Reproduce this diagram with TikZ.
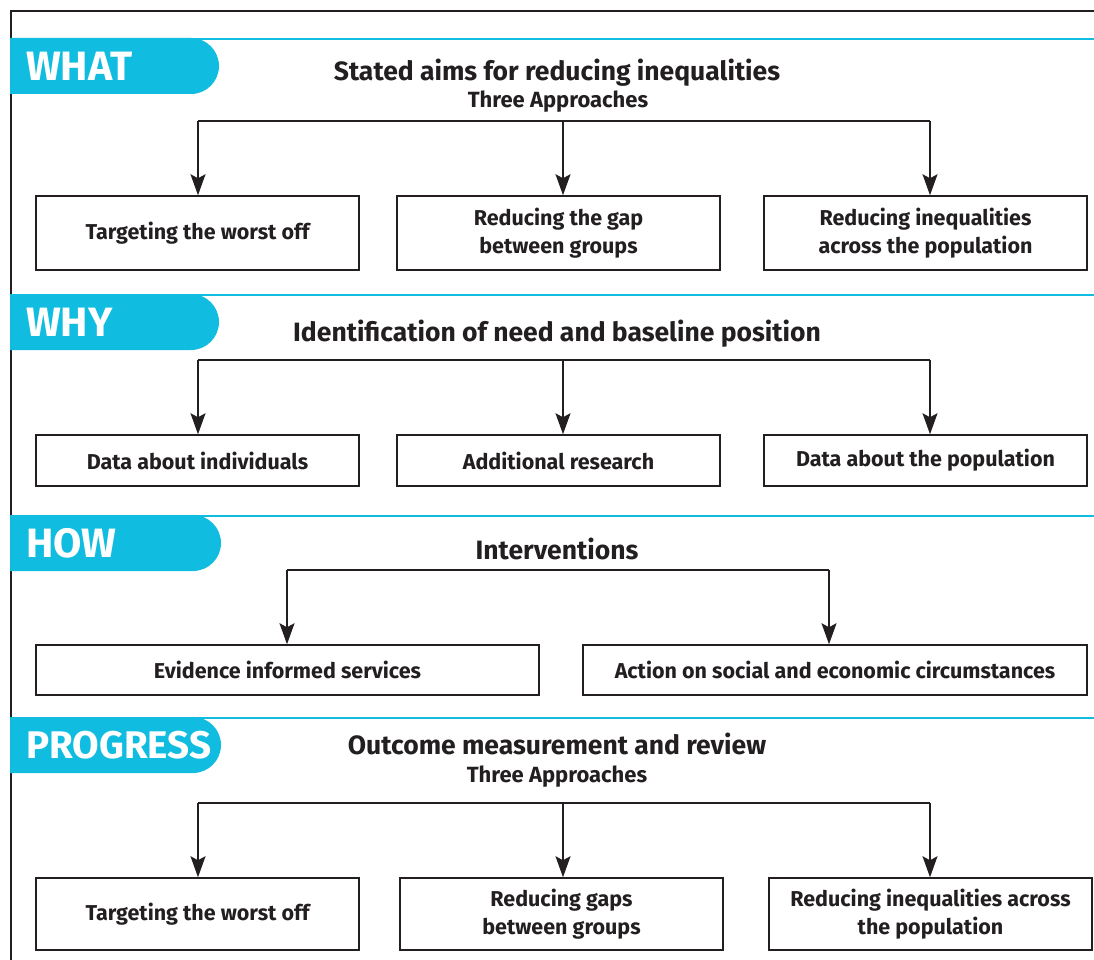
\documentclass[tikz,border=0pt]{standalone}
\usepackage{fontspec}
\setmainfont{Fira Sans}
\usetikzlibrary{arrows.meta}
\definecolor{tabcyan}{RGB}{16,189,224}
\definecolor{ink}{RGB}{35,31,32}
\begin{document}
\begin{tikzpicture}[x=1pt,y=-1pt,
  box/.style={draw=ink,line width=1.5pt,fill=white,inner sep=2pt,align=center,text=ink,
    font=\fontsize{21.5}{28}\selectfont\bfseries},
  title/.style={text=ink,inner sep=0pt,font=\fontsize{26.5}{30}\selectfont\bfseries},
  subtitle/.style={text=ink,inner sep=0pt,font=\fontsize{22}{26}\selectfont\bfseries},
  tabtext/.style={text=white,anchor=west,inner sep=0pt,font=\fontsize{41}{44}\selectfont\bfseries},
  bus/.style={draw=ink,line width=1.5pt},
  arr/.style={draw=ink,line width=1.5pt,-{Stealth[length=21pt,width=15pt,inset=4pt]}},
  cline/.style={draw=tabcyan,line width=2.5pt}]
\useasboundingbox (0,0) rectangle (1094,960);
% frame
\draw[ink,line width=2pt] (11,961) -- (11,11) -- (1095,11);
% tabs and cyan rules
\foreach \yt/\xr in {38/219, 294/219, 515/221, 717/221}{
  \draw[cline] (10,\yt+1.2) -- (1095,\yt+1.2);
  \fill[tabcyan] (10,\yt) -- (\xr-28,\yt) arc[start angle=-90,end angle=90,radius=28] -- (10,\yt+56) -- cycle;
}
\node[tabtext] (tWhat) at (26,66) {WHAT};
\node[tabtext] (tWhy) at (26,322) {WHY};
\node[tabtext] (tHow) at (26,543) {HOW};
\node[tabtext,font=\fontsize{38.5}{42}\selectfont\bfseries] (tProg) at (26,745) {PROGRESS};

% ---- WHAT
\node[title] (T1) at (557,73) {Stated aims for reducing inequalities};
\node[subtitle] (S1) at (558,102) {Three Approaches};
\node[box,minimum width=323pt,minimum height=74pt] (A1) at (197.5,233) {Targeting the worst off};
\node[box,minimum width=323pt,minimum height=74pt] (A2) at (558.5,233) {Reducing the gap\\between groups};
\node[box,minimum width=323pt,minimum height=74pt] (A3) at (925.5,233) {Reducing inequalities\\across the population};
\coordinate (a1) at (198,121); \coordinate (a2) at (563,121); \coordinate (a3) at (930,121);
\draw[bus] (a1) -- (a3);
\draw[arr] (a1) -- (a1 |- A1.north);
\draw[arr] (a2) -- (a2 |- A2.north);
\draw[arr] (a3) -- (a3 |- A3.north);

% ---- WHY
\node[title] (T2) at (557,334) {Identification of need and baseline position};
\node[box,minimum width=323pt,minimum height=51pt] (B1) at (197.5,460.5) {Data about individuals};
\node[box,minimum width=323pt,minimum height=51pt] (B2) at (558.5,460.5) {Additional research};
\node[box,minimum width=323pt,minimum height=51pt] (B3) at (925.5,460.5) {Data about the population};
\coordinate (b1) at (198,360); \coordinate (b2) at (563,360); \coordinate (b3) at (930,360);
\draw[bus] (b1) -- (b3);
\draw[arr] (b1) -- (b1 |- B1.north);
\draw[arr] (b2) -- (b2 |- B2.north);
\draw[arr] (b3) -- (b3 |- B3.north);

% ---- HOW
\node[title] (T3) at (557,549) {Interventions};
\node[box,minimum width=503pt,minimum height=50pt] (C1) at (287.5,670) {Evidence informed services};
\node[box,minimum width=504pt,minimum height=50pt] (C2) at (835,670) {Action on social and economic circumstances};
\coordinate (c1) at (287,570); \coordinate (c2) at (829,570);
\draw[bus] (c1) -- (c2);
\draw[arr] (c1) -- (c1 |- C1.north);
\draw[arr] (c2) -- (c2 |- C2.north);

% ---- PROGRESS
\node[title] (T4) at (557,744) {Outcome measurement and review};
\node[subtitle] (S4) at (557,777) {Three Approaches};
\node[box,minimum width=323pt,minimum height=72pt] (D1) at (197.5,914) {Targeting the worst off};
\node[box,minimum width=323pt,minimum height=72pt] (D2) at (561.5,914) {Reducing gaps\\between groups};
\node[box,minimum width=323pt,minimum height=72pt] (D3) at (930.5,914) {Reducing inequalities across\\the population};
\coordinate (d1) at (198,803); \coordinate (d2) at (563,803); \coordinate (d3) at (930,803);
\draw[bus] (d1) -- (d3);
\draw[arr] (d1) -- (d1 |- D1.north);
\draw[arr] (d2) -- (d2 |- D2.north);
\draw[arr] (d3) -- (d3 |- D3.north);
\end{tikzpicture}
\end{document}
